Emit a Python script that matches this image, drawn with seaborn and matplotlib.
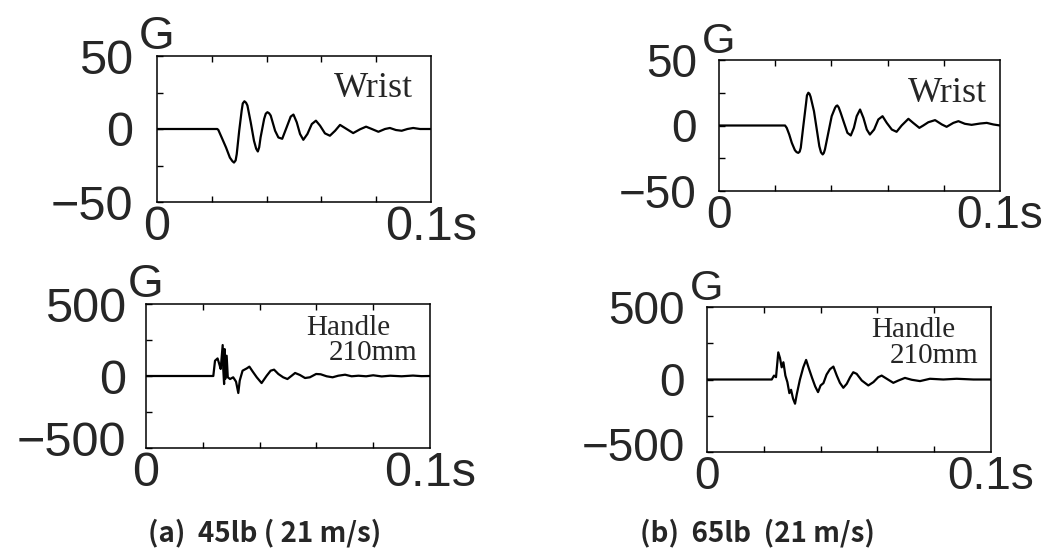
import matplotlib
matplotlib.use("Agg")
import matplotlib.pyplot as plt
from matplotlib import font_manager
from matplotlib.transforms import ScaledTranslation
import numpy as np
import pandas as pd
import seaborn as sns

# ---------------- data (time in ms, acceleration in G) ----------------
wrist_a_t = [0, 22.0, 22.4, 23.6, 25.2, 26.6, 27.5, 28.1, 28.7, 29.1, 30.0, 30.9, 31.3, 31.9,
             32.5, 33.0, 34.2, 35.4, 36.2, 36.8, 37.3, 37.8, 39.1, 39.7, 40.3, 40.9, 41.5,
             43.1, 44.3, 45.7, 47.3, 48.8, 49.8, 51.0, 52.2, 53.4, 54.9, 56.5, 58.0, 59.5,
             61.3, 63.1, 65.0, 66.8, 68.6, 71.6, 74.1, 76.3, 78.4, 80.8, 83.2, 85.0, 87.2,
             89.3, 91.4, 93.5, 96.0, 100.0]
wrist_a_g = [0, 0, -0.7, -5.8, -12.7, -19.6, -22.0, -23.0, -21.5, -17.2, -1.2, 12.6, 17.5, 19.0,
             18.0, 16.1, 4.6, -8.1, -13.5, -15.4, -12.5, -5.8, 6.9, 10.5, 11.5, 10.8, 9.2,
             -1.2, -5.8, -6.7, 1.1, 8.5, 9.9, 4.6, -3.4, -7.4, -3.4, 3.4, 5.7, 2.3,
             -3.0, -4.6, -1.2, 2.8, 0.7, -2.8, -0.2, 1.6, 0, -1.9, 0, 0.7, -0.7,
             -1.2, 0, 0.7, 0, 0]

handle_a_t = [0, 23.7, 24.3, 25.2, 25.8, 26.3, 27.0, 27.2, 27.5, 27.7, 27.9, 28.4, 28.8, 29.6,
              30.7, 31.7, 32.5, 33.0, 34.0, 35.5, 36.4, 37.6, 39.0, 40.7, 42.5, 43.9, 45.1,
              46.6, 48.3, 49.8, 51.3, 52.5, 54.2, 56.0, 57.7, 59.9, 61.5, 63.6, 65.7, 67.7,
              70.1, 72.4, 74.8, 77.5, 80.0, 83.0, 86.0, 90.0, 94.0, 97.0, 100.0]
handle_a_g = [0, 0, 106, 122, 83, 49, 215, 49, -56, 187, -21, 141, -9, -21,
              -9, -39, -118, -32, 37, 53, 65, 30, -9, -49, 2, 37, 44,
              14, -9, -21, 2, 21, 7, -14, -9, 14, 12, -2, -9, 2,
              9, -2, 2, -2, 5, -3, 2, -2, 3, -1, 0]

wrist_b_t = [0, 23.5, 24.1, 25.0, 25.9, 27.0, 27.6, 28.2, 28.7, 29.1, 30.0, 31.0, 31.3, 31.8,
             32.2, 32.6, 33.8, 34.8, 35.7, 36.3, 36.9, 37.3, 37.7, 38.9, 40.1, 41.3, 41.7,
             42.1, 42.6, 43.3, 44.5, 45.7, 46.9, 48.0, 49.0, 50.2, 51.4, 52.6, 53.7, 55.2,
             56.7, 58.2, 59.7, 61.5, 63.2, 65.0, 67.4, 69.1, 71.3, 72.7, 74.5, 76.9, 79.3,
             81.0, 83.4, 85.2, 87.5, 89.9, 92.9, 95.3, 97.6, 100.0]
wrist_b_g = [0, 0, -1.8, -6.9, -13.2, -18.8, -20.3, -20.9, -20.0, -17.0, -0.5, 17.3, 23.0, 25.0,
             24.2, 21.9, 10.9, -3.1, -15.8, -20.5, -22.1, -21.0, -18.3, -5.6, 7.1, 13.5, 14.8,
             15.3, 13.8, 9.7, 2.0, -5.6, -7.6, -1.8, 7.1, 12.2, 5.8, -3.1, -6.9, -3.1,
             4.6, 7.1, 2.0, -3.1, -4.8, 0, 5.1, 2.0, -1.8, 0, 2.5, 4.1, 0.8,
             -1.0, 2.0, 3.3, 1.3, 0.5, 1.5, 2.0, 0.8, 0]

handle_b_t = [0, 22.8, 23.6, 24.3, 25.1, 25.7, 26.3, 26.9, 27.6, 28.3, 29.0, 29.6, 30.3, 31.0,
              31.6, 32.7, 33.9, 34.9, 35.8, 37.0, 38.1, 39.1, 40.0, 41.0, 42.1, 43.3, 44.5,
              45.7, 46.8, 48.0, 49.2, 50.4, 51.5, 52.7, 54.5, 56.8, 58.6, 60.3, 61.5, 63.3,
              65.6, 67.4, 69.7, 72.1, 75.0, 78.5, 83.2, 87.9, 93.8, 100.0]
handle_b_g = [0, 0, 27, 16, 187, 148, 84, 119, 27, -18, -94, -71, -132, -167,
              -103, -2, 84, 135, 80, 11, -48, -87, -41, -25, 34, 71, 89,
              27, -23, -57, -30, 16, 50, 39, -7, -41, -18, 16, 27, 5,
              -23, -7, 11, -2, -11, 5, 0, 5, 0, 0]

x_tick_labels = ["0", "0.1s"]
wrist_y_labels = ["\u221250", "0", "50"]
handle_y_labels = ["\u2212500", "0", "500"]
wrist_name = ["Wrist"]
handle_name = ["Handle", "210mm"]
captions = ["(a)  45lb ( 21 m/s)", "(b)  65lb  (21 m/s)"]

# ---------------- style ----------------
sns.set_style("white")
plt.rcParams["font.family"] = ["Liberation Sans", "DejaVu Sans"]
plt.rcParams["axes.linewidth"] = 1.1
plt.rcParams["axes.edgecolor"] = "black"

names = {f.name for f in font_manager.fontManager.ttflist}
if "Liberation Sans Narrow" in names:
    cap_family, cap_size, cap_weight = "Liberation Sans Narrow", 22, "bold"
else:
    cap_family, cap_size, cap_weight = "Noto Sans CJK JP", 20, "bold"

fig = plt.figure(figsize=(10.62, 5.5), dpi=100)
W, H = 1062.0, 550.0


def rect(left, top, right, bottom):
    return [left / W, 1 - bottom / H, (right - left) / W, (bottom - top) / H]


def panel(r, t, g, ymax, ylabels, fs, gfs, ypad, texts, low_shift=0):
    ax = fig.add_axes(r)
    df = pd.DataFrame({"t": t, "g": g})
    sns.lineplot(data=df, x="t", y="g", ax=ax, color="black", linewidth=1.6,
                 estimator=None, sort=False, solid_joinstyle="round")
    ax.set_xlim(0, 100)
    ax.set_ylim(-ymax, ymax)
    ax.set_xlabel("")
    ax.set_ylabel("")
    ax.set_xticks([0, 100])
    ax.set_xticklabels(x_tick_labels, fontsize=fs)
    ax.set_xticks([20, 40, 60, 80], minor=True)
    ax.set_yticks([-ymax, 0, ymax])
    ax.set_yticklabels(ylabels, fontsize=fs)
    ax.set_yticks([-ymax / 2, ymax / 2], minor=True)
    ax.tick_params(axis="both", which="both", direction="in", length=4, width=1,
                   color="black")
    ax.tick_params(axis="x", which="both", top=True, bottom=True)
    ax.tick_params(axis="x", which="major", length=0, pad=2)
    ax.tick_params(axis="y", which="both", left=True, right=False)
    ax.tick_params(axis="y", which="major", pad=ypad)
    if low_shift:
        lab = ax.get_yticklabels()[0]
        lab.set_transform(lab.get_transform() +
                          ScaledTranslation(0, low_shift / 72.0, fig.dpi_scale_trans))
    for s in ax.spines.values():
        s.set_visible(True)
        s.set_color("black")
    ax.annotate("G", xy=(0, 1), xycoords="axes fraction", xytext=(0, 5),
                textcoords="offset points", ha="center", va="baseline", fontsize=gfs)
    for (txt, x, y, size) in texts:
        ax.text(x, y, txt, transform=ax.transAxes, ha="right", va="baseline",
                fontsize=size, family=["Liberation Serif", "DejaVu Serif"])
    return ax


panel(rect(157, 56, 431, 202), wrist_a_t, wrist_a_g, 50, wrist_y_labels, 35, 33, 17,
      [(wrist_name[0], 0.934, 0.719, 26)])
panel(rect(146, 304, 430, 448), handle_a_t, handle_a_g, 500, handle_y_labels, 35, 33, 14,
      [(handle_name[0], 0.859, 0.785, 21), (handle_name[1], 0.954, 0.611, 21)],
      low_shift=7)
panel(rect(719, 60, 1000, 191), wrist_b_t, wrist_b_g, 50, wrist_y_labels, 33, 31, 16,
      [(wrist_name[0], 0.954, 0.679, 26)])
panel(rect(707, 307, 991, 452), handle_b_t, handle_b_g, 500, handle_y_labels, 33, 31, 16,
      [(handle_name[0], 0.873, 0.793, 21), (handle_name[1], 0.954, 0.614, 21)],
      low_shift=6)

fig.text(265 / W, 1 - 533 / H, captions[0], ha="center", va="center", fontsize=cap_size,
         family=[cap_family, "DejaVu Sans"], fontweight=cap_weight)
fig.text(757 / W, 1 - 533 / H, captions[1], ha="center", va="center", fontsize=cap_size,
         family=[cap_family, "DejaVu Sans"], fontweight=cap_weight)

fig.savefig("out.png", dpi=100)
